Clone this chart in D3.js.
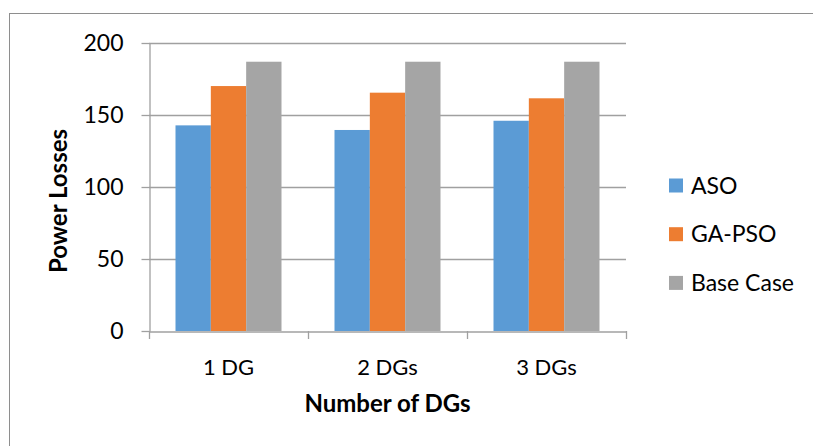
<!DOCTYPE html>
<html>
<head>
<meta charset="utf-8">
<script src="https://cdn.jsdelivr.net/npm/d3@7"></script>
<style>
  html, body { margin: 0; padding: 0; background: #fff; }
  svg { display: block; }
  text { font-family: Lato, "Open Sans", sans-serif; fill: #000; }
</style>
</head>
<body>
<svg id="chart" width="813" height="446"></svg>
<script>
// Power losses per number of DGs, for each optimisation method
const categories = ["1 DG", "2 DGs", "3 DGs"];
const seriesNames = ["ASO", "GA-PSO", "Base Case"];
const asoValues = [142.8, 139.6, 146.0];
const gaPsoValues = [170.1, 165.5, 161.6];
const baseCaseValues = [187.0, 187.0, 187.0];
const yTicks = [0, 50, 100, 150, 200];
const colors = ["#5b9bd5", "#ed7d31", "#a5a5a5"];

const seriesValues = [asoValues, gaPsoValues, baseCaseValues];
const rows = categories.map((c, i) => ({
  category: c,
  values: seriesNames.map((s, j) => ({ series: s, value: seriesValues[j][i] }))
}));

const svg = d3.select("#chart");

// outer frame of the chart area
svg.append("rect")
  .attr("x", 9.5).attr("y", 13.5)
  .attr("width", 900).attr("height", 500)
  .attr("fill", "none").attr("stroke", "#8e8e8e").attr("stroke-width", 1);

const plot = { left: 149, right: 626, top: 43, bottom: 331 };

const x0 = d3.scaleBand().domain(categories).range([plot.left, plot.right]).padding(0);
const bw = x0.bandwidth();
const x1 = d3.scaleBand().domain(seriesNames).range([bw / 6, bw * 5 / 6]).padding(0);
const y = d3.scaleLinear().domain([0, 200]).range([plot.bottom, plot.top]);

// horizontal gridlines
svg.append("g").selectAll("line")
  .data(yTicks.filter(t => t > 0))
  .join("line")
  .attr("x1", plot.left).attr("x2", plot.right)
  .attr("y1", d => Math.round(y(d)) + 0.5).attr("y2", d => Math.round(y(d)) + 0.5)
  .attr("stroke", "#a0a0a0").attr("stroke-width", 1.3);

// bars
svg.append("g").selectAll("g")
  .data(rows)
  .join("g")
  .attr("transform", d => `translate(${x0(d.category)},0)`)
  .selectAll("rect")
  .data(d => d.values)
  .join("rect")
  .attr("x", d => x1(d.series))
  .attr("width", x1.bandwidth())
  .attr("y", d => y(d.value))
  .attr("height", d => y(0) - y(d.value))
  .attr("fill", (d, i) => colors[i]);

// y axis
const yAxis = svg.append("g")
  .attr("transform", `translate(${plot.left + 0.5},0)`)
  .call(d3.axisLeft(y).tickValues(yTicks).tickSize(8).tickPadding(18).tickSizeOuter(0));
yAxis.select(".domain").attr("stroke", "#a0a0a0").attr("stroke-width", 1.3);
yAxis.selectAll(".tick line").attr("stroke", "#a0a0a0").attr("stroke-width", 1.3);
yAxis.selectAll(".tick text")
  .style("font-family", "Lato, 'Open Sans', sans-serif")
  .style("font-size", "23px").attr("fill", "#000");

// x axis
const xAxis = svg.append("g")
  .attr("transform", `translate(0,${plot.bottom + 0.5})`)
  .call(d3.axisBottom(x0).tickSize(0).tickPadding(28).tickSizeOuter(0));
xAxis.select(".domain").attr("stroke", "#a0a0a0").attr("stroke-width", 1.3);
xAxis.selectAll(".tick text")
  .style("font-family", "Lato, 'Open Sans', sans-serif")
  .style("font-size", "22px").attr("fill", "#000");

// category separator ticks on the x axis
const tickXs = categories.map(c => x0(c)).concat([plot.right]);
svg.append("g").selectAll("line")
  .data(tickXs)
  .join("line")
  .attr("x1", d => Math.round(d) + 0.5).attr("x2", d => Math.round(d) + 0.5)
  .attr("y1", plot.bottom).attr("y2", plot.bottom + 8)
  .attr("stroke", "#a0a0a0").attr("stroke-width", 1.3);

// axis titles
svg.append("text")
  .attr("x", (plot.left + plot.right) / 2).attr("y", 412)
  .attr("text-anchor", "middle")
  .style("font-size", "24px").style("font-weight", "bold")
  .text("Number of DGs");

svg.append("text")
  .attr("transform", `translate(67,${(plot.top + plot.bottom) / 2 + 14}) rotate(-90)`)
  .attr("text-anchor", "middle")
  .style("font-size", "24px").style("font-weight", "bold")
  .text("Power Losses");

// legend
const legend = svg.append("g").selectAll("g")
  .data(seriesNames)
  .join("g")
  .attr("transform", (d, i) => `translate(669,${185.5 + i * 48.7})`);
legend.append("rect")
  .attr("x", 0).attr("y", -7).attr("width", 14).attr("height", 14)
  .attr("fill", (d, i) => colors[i]);
legend.append("text")
  .attr("x", 22).attr("y", 0).attr("dy", "0.36em")
  .style("font-size", "23px")
  .text(d => d);
</script>
</body>
</html>
